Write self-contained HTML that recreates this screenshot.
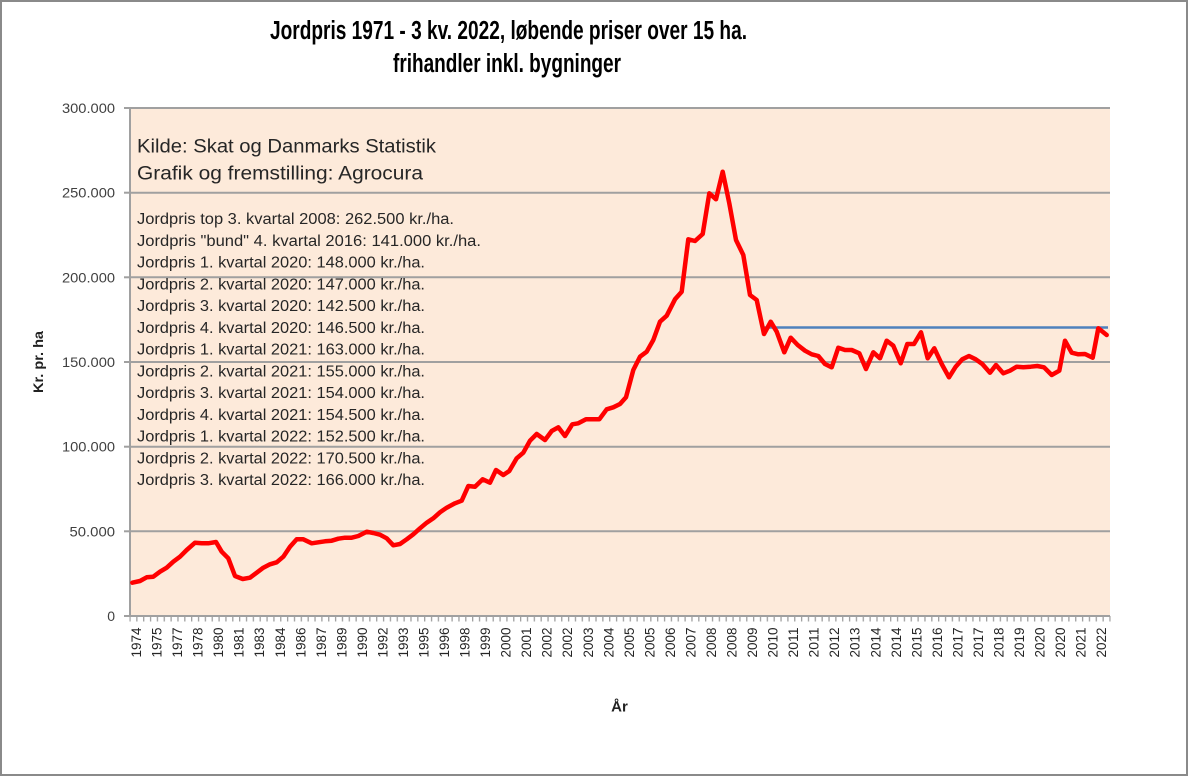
<!DOCTYPE html>
<html>
<head>
<meta charset="utf-8">
<style>
  html,body{margin:0;padding:0;background:#fff;}
  svg{display:block;}
  text{font-family:"Liberation Sans", Arial, sans-serif;}
</style>
</head>
<body>
<svg width="1189" height="777" viewBox="0 0 1189 777" xmlns="http://www.w3.org/2000/svg">
  <defs>
    <pattern id="tickpat" patternUnits="userSpaceOnUse" x="129.35" y="616" width="6.85315" height="6">
      <rect x="0" y="0" width="1.3" height="6" fill="#a0a0a0"/>
    </pattern>
  </defs>
  <rect x="0" y="0" width="1189" height="777" fill="#ffffff"/>
  <rect x="1" y="1" width="1186" height="774" fill="none" stroke="#8a8a8a" stroke-width="2"/>

  <!-- Title -->
  <text x="270" y="39" font-size="25.5" font-weight="bold" fill="#000" textLength="477" lengthAdjust="spacingAndGlyphs">Jordpris 1971 - 3 kv. 2022, løbende priser over 15 ha.</text>
  <text x="393" y="72" font-size="25.5" font-weight="bold" fill="#000" textLength="228" lengthAdjust="spacingAndGlyphs">frihandler inkl. bygninger</text>

  <!-- Plot area -->
  <rect x="130" y="108" width="980" height="508" fill="#FDEADA"/>

  <!-- Gridlines -->
  <g stroke="#a0a0a0" stroke-width="2">
    <line x1="130" y1="108" x2="1110" y2="108"/>
    <line x1="130" y1="192.7" x2="1110" y2="192.7"/>
    <line x1="130" y1="277.3" x2="1110" y2="277.3"/>
    <line x1="130" y1="362" x2="1110" y2="362"/>
    <line x1="130" y1="446.7" x2="1110" y2="446.7"/>
    <line x1="130" y1="531.3" x2="1110" y2="531.3"/>
    <line x1="130" y1="616" x2="1110" y2="616"/>
    <line x1="130" y1="107" x2="130" y2="617"/>
    <line x1="124" y1="108" x2="130" y2="108"/>
    <line x1="124" y1="192.7" x2="130" y2="192.7"/>
    <line x1="124" y1="277.3" x2="130" y2="277.3"/>
    <line x1="124" y1="362" x2="130" y2="362"/>
    <line x1="124" y1="446.7" x2="130" y2="446.7"/>
    <line x1="124" y1="531.3" x2="130" y2="531.3"/>
    <line x1="124" y1="616" x2="130" y2="616"/>
  </g>

  <!-- x ticks -->
  <rect x="129.35" y="616" width="981.4" height="5.5" fill="url(#tickpat)"/>

  <!-- Y axis labels -->
  <g font-size="14" fill="#404040" text-anchor="end">
    <text x="115" y="113" textLength="53" lengthAdjust="spacingAndGlyphs">300.000</text>
    <text x="115" y="197.7" textLength="53" lengthAdjust="spacingAndGlyphs">250.000</text>
    <text x="115" y="282.3" textLength="53" lengthAdjust="spacingAndGlyphs">200.000</text>
    <text x="115" y="367" textLength="53" lengthAdjust="spacingAndGlyphs">150.000</text>
    <text x="115" y="451.7" textLength="53" lengthAdjust="spacingAndGlyphs">100.000</text>
    <text x="115" y="536.3" textLength="45.5" lengthAdjust="spacingAndGlyphs">50.000</text>
    <text x="115" y="621">0</text>
  </g>

  <!-- Axis titles -->
  <text transform="translate(43,362) rotate(-90)" text-anchor="middle" font-size="14" font-weight="bold" fill="#222" textLength="62" lengthAdjust="spacingAndGlyphs">Kr. pr. ha</text>
  <text x="619.5" y="711.5" text-anchor="middle" font-size="15" font-weight="bold" fill="#222">År</text>

  <!-- X labels -->
  <g font-size="14" fill="#262626" text-anchor="end">
    <text transform="translate(141.00,627.5) rotate(-90)" textLength="30" lengthAdjust="spacingAndGlyphs">1974</text>
    <text transform="translate(161.54,627.5) rotate(-90)" textLength="30" lengthAdjust="spacingAndGlyphs">1975</text>
    <text transform="translate(182.07,627.5) rotate(-90)" textLength="30" lengthAdjust="spacingAndGlyphs">1977</text>
    <text transform="translate(202.61,627.5) rotate(-90)" textLength="30" lengthAdjust="spacingAndGlyphs">1978</text>
    <text transform="translate(223.14,627.5) rotate(-90)" textLength="30" lengthAdjust="spacingAndGlyphs">1980</text>
    <text transform="translate(243.68,627.5) rotate(-90)" textLength="30" lengthAdjust="spacingAndGlyphs">1981</text>
    <text transform="translate(264.21,627.5) rotate(-90)" textLength="30" lengthAdjust="spacingAndGlyphs">1983</text>
    <text transform="translate(284.75,627.5) rotate(-90)" textLength="30" lengthAdjust="spacingAndGlyphs">1984</text>
    <text transform="translate(305.28,627.5) rotate(-90)" textLength="30" lengthAdjust="spacingAndGlyphs">1986</text>
    <text transform="translate(325.82,627.5) rotate(-90)" textLength="30" lengthAdjust="spacingAndGlyphs">1987</text>
    <text transform="translate(346.35,627.5) rotate(-90)" textLength="30" lengthAdjust="spacingAndGlyphs">1989</text>
    <text transform="translate(366.89,627.5) rotate(-90)" textLength="30" lengthAdjust="spacingAndGlyphs">1990</text>
    <text transform="translate(387.42,627.5) rotate(-90)" textLength="30" lengthAdjust="spacingAndGlyphs">1992</text>
    <text transform="translate(407.96,627.5) rotate(-90)" textLength="30" lengthAdjust="spacingAndGlyphs">1993</text>
    <text transform="translate(428.49,627.5) rotate(-90)" textLength="30" lengthAdjust="spacingAndGlyphs">1995</text>
    <text transform="translate(449.03,627.5) rotate(-90)" textLength="30" lengthAdjust="spacingAndGlyphs">1996</text>
    <text transform="translate(469.56,627.5) rotate(-90)" textLength="30" lengthAdjust="spacingAndGlyphs">1998</text>
    <text transform="translate(490.10,627.5) rotate(-90)" textLength="30" lengthAdjust="spacingAndGlyphs">1999</text>
    <text transform="translate(510.63,627.5) rotate(-90)" textLength="30" lengthAdjust="spacingAndGlyphs">2000</text>
    <text transform="translate(531.17,627.5) rotate(-90)" textLength="30" lengthAdjust="spacingAndGlyphs">2001</text>
    <text transform="translate(551.70,627.5) rotate(-90)" textLength="30" lengthAdjust="spacingAndGlyphs">2002</text>
    <text transform="translate(572.24,627.5) rotate(-90)" textLength="30" lengthAdjust="spacingAndGlyphs">2002</text>
    <text transform="translate(592.77,627.5) rotate(-90)" textLength="30" lengthAdjust="spacingAndGlyphs">2003</text>
    <text transform="translate(613.31,627.5) rotate(-90)" textLength="30" lengthAdjust="spacingAndGlyphs">2004</text>
    <text transform="translate(633.84,627.5) rotate(-90)" textLength="30" lengthAdjust="spacingAndGlyphs">2005</text>
    <text transform="translate(654.38,627.5) rotate(-90)" textLength="30" lengthAdjust="spacingAndGlyphs">2005</text>
    <text transform="translate(674.91,627.5) rotate(-90)" textLength="30" lengthAdjust="spacingAndGlyphs">2006</text>
    <text transform="translate(695.45,627.5) rotate(-90)" textLength="30" lengthAdjust="spacingAndGlyphs">2007</text>
    <text transform="translate(715.98,627.5) rotate(-90)" textLength="30" lengthAdjust="spacingAndGlyphs">2008</text>
    <text transform="translate(736.52,627.5) rotate(-90)" textLength="30" lengthAdjust="spacingAndGlyphs">2008</text>
    <text transform="translate(757.05,627.5) rotate(-90)" textLength="30" lengthAdjust="spacingAndGlyphs">2009</text>
    <text transform="translate(777.59,627.5) rotate(-90)" textLength="30" lengthAdjust="spacingAndGlyphs">2010</text>
    <text transform="translate(798.12,627.5) rotate(-90)" textLength="30" lengthAdjust="spacingAndGlyphs">2011</text>
    <text transform="translate(818.66,627.5) rotate(-90)" textLength="30" lengthAdjust="spacingAndGlyphs">2011</text>
    <text transform="translate(839.19,627.5) rotate(-90)" textLength="30" lengthAdjust="spacingAndGlyphs">2012</text>
    <text transform="translate(859.73,627.5) rotate(-90)" textLength="30" lengthAdjust="spacingAndGlyphs">2013</text>
    <text transform="translate(880.26,627.5) rotate(-90)" textLength="30" lengthAdjust="spacingAndGlyphs">2014</text>
    <text transform="translate(900.80,627.5) rotate(-90)" textLength="30" lengthAdjust="spacingAndGlyphs">2014</text>
    <text transform="translate(921.33,627.5) rotate(-90)" textLength="30" lengthAdjust="spacingAndGlyphs">2015</text>
    <text transform="translate(941.87,627.5) rotate(-90)" textLength="30" lengthAdjust="spacingAndGlyphs">2016</text>
    <text transform="translate(962.40,627.5) rotate(-90)" textLength="30" lengthAdjust="spacingAndGlyphs">2017</text>
    <text transform="translate(982.94,627.5) rotate(-90)" textLength="30" lengthAdjust="spacingAndGlyphs">2017</text>
    <text transform="translate(1003.47,627.5) rotate(-90)" textLength="30" lengthAdjust="spacingAndGlyphs">2018</text>
    <text transform="translate(1024.01,627.5) rotate(-90)" textLength="30" lengthAdjust="spacingAndGlyphs">2019</text>
    <text transform="translate(1044.54,627.5) rotate(-90)" textLength="30" lengthAdjust="spacingAndGlyphs">2020</text>
    <text transform="translate(1065.08,627.5) rotate(-90)" textLength="30" lengthAdjust="spacingAndGlyphs">2020</text>
    <text transform="translate(1085.61,627.5) rotate(-90)" textLength="30" lengthAdjust="spacingAndGlyphs">2021</text>
    <text transform="translate(1106.15,627.5) rotate(-90)" textLength="30" lengthAdjust="spacingAndGlyphs">2022</text>
  </g>

  <!-- Annotations -->
  <g fill="#262626">
    <text x="137" y="152.7" font-size="19" textLength="299" lengthAdjust="spacingAndGlyphs">Kilde: Skat og Danmarks Statistik</text>
    <text x="137" y="179.3" font-size="19" textLength="286" lengthAdjust="spacingAndGlyphs">Grafik og fremstilling: Agrocura</text>
  </g>
  <g fill="#262626" font-size="15.5">
    <text x="137" y="224" textLength="317" lengthAdjust="spacingAndGlyphs">Jordpris top 3. kvartal 2008: 262.500 kr./ha.</text>
    <text x="137" y="245.75" textLength="344" lengthAdjust="spacingAndGlyphs">Jordpris "bund" 4. kvartal 2016: 141.000 kr./ha.</text>
    <text x="137" y="267.5" textLength="288" lengthAdjust="spacingAndGlyphs">Jordpris 1. kvartal 2020: 148.000 kr./ha.</text>
    <text x="137" y="289.25" textLength="288" lengthAdjust="spacingAndGlyphs">Jordpris 2. kvartal 2020: 147.000 kr./ha.</text>
    <text x="137" y="311" textLength="288" lengthAdjust="spacingAndGlyphs">Jordpris 3. kvartal 2020: 142.500 kr./ha.</text>
    <text x="137" y="332.75" textLength="288" lengthAdjust="spacingAndGlyphs">Jordpris 4. kvartal 2020: 146.500 kr./ha.</text>
    <text x="137" y="354.5" textLength="288" lengthAdjust="spacingAndGlyphs">Jordpris 1. kvartal 2021: 163.000 kr./ha.</text>
    <text x="137" y="376.25" textLength="288" lengthAdjust="spacingAndGlyphs">Jordpris 2. kvartal 2021: 155.000 kr./ha.</text>
    <text x="137" y="398" textLength="288" lengthAdjust="spacingAndGlyphs">Jordpris 3. kvartal 2021: 154.000 kr./ha.</text>
    <text x="137" y="419.75" textLength="288" lengthAdjust="spacingAndGlyphs">Jordpris 4. kvartal 2021: 154.500 kr./ha.</text>
    <text x="137" y="441.5" textLength="288" lengthAdjust="spacingAndGlyphs">Jordpris 1. kvartal 2022: 152.500 kr./ha.</text>
    <text x="137" y="463.25" textLength="288" lengthAdjust="spacingAndGlyphs">Jordpris 2. kvartal 2022: 170.500 kr./ha.</text>
    <text x="137" y="485" textLength="288" lengthAdjust="spacingAndGlyphs">Jordpris 3. kvartal 2022: 166.000 kr./ha.</text>
  </g>

  <!-- Blue reference line -->
  <line x1="764" y1="327.5" x2="1108" y2="327.5" stroke="#4F81BD" stroke-width="2.5"/>

  <!-- Red series -->
  <polyline fill="none" stroke="#FF0000" stroke-width="4.5" stroke-linejoin="round" stroke-linecap="round" points="
132.3,582.7 140,581 146.7,577.3 153.3,576.7 160,571.7 166.7,567.7 173.3,561.7 180,556.7 186.7,550 195,542.7
201.7,543.3 208.3,543.3 216,542 221.7,551.7 228.3,558.3 235,576 242.7,579 250,577.7 256.7,572.7 263.3,567.7
270,564.3 276.7,562.3 283.3,556.7 290,546.7 296.7,539.3 303.3,539.3 311.7,543.3 318.3,542.3 325,541.3 331.7,540.7
338.3,538.7 345,537.7 351.7,537.7 358.3,536 366.7,531.7 373.3,533 380,534.7 386.7,538.3 393.3,545.3 400,544
406.7,539.3 413.3,534.3 420,528.3 426.7,522.7 433.3,518.3 440,512.3 446.7,507.7 455,503.3 461.7,500.7 468.3,486
475,486.7 482.7,479.3 490,482.7 496,470 503.3,475 509.3,471 516.7,458.3 523.3,452.7 530,440.7 536.7,434
545,440 551.7,431 558.3,427.3 565,436 572.3,424.3 578.3,423.3 586,419.3 592.7,419.3 599.3,419.3 606.7,409.3
613.3,407.3 620,404 626,397.3 633.3,370 640,356.7 646.7,351.7 653.3,340 660,321.7 666.7,315.7 675,299.3
681.7,291.7 688.3,239.3 695,241 702.7,234 709.3,193.3 716,199.3 722.7,171.7 729.3,203.3 736,240 743.3,255
750,295 756.7,300 764,334 770.7,321.7 776.7,331.7 784.3,352.3 790.7,337.7 797.7,345 805,350.7 811.7,354.3
818.3,356 825,364 831.7,367.3 838.3,347.7 845,350 851.7,350 859.3,353.3 866,369 873.3,352.3 880,358.3
886.7,340.7 893.3,345.7 900.7,363.3 907.3,344 914,344 921,332.3 927.7,358.3 934.3,348.3 941.7,364 949,377.3
955.7,366.7 962.3,359.3 969,356 975.7,359.3 982.3,364 990,372.7 996,365 1003.3,373.3 1010,370.7 1016.7,366.7
1023.3,367.3 1030.7,366.7 1037.3,366 1044,367.3 1051.7,375 1059.3,370.7 1065,340.7 1071.7,352.7 1078.3,354.3 1085,354
1092.7,357.7 1098.3,328.3 1106.7,335"/>
</svg>
</body>
</html>
